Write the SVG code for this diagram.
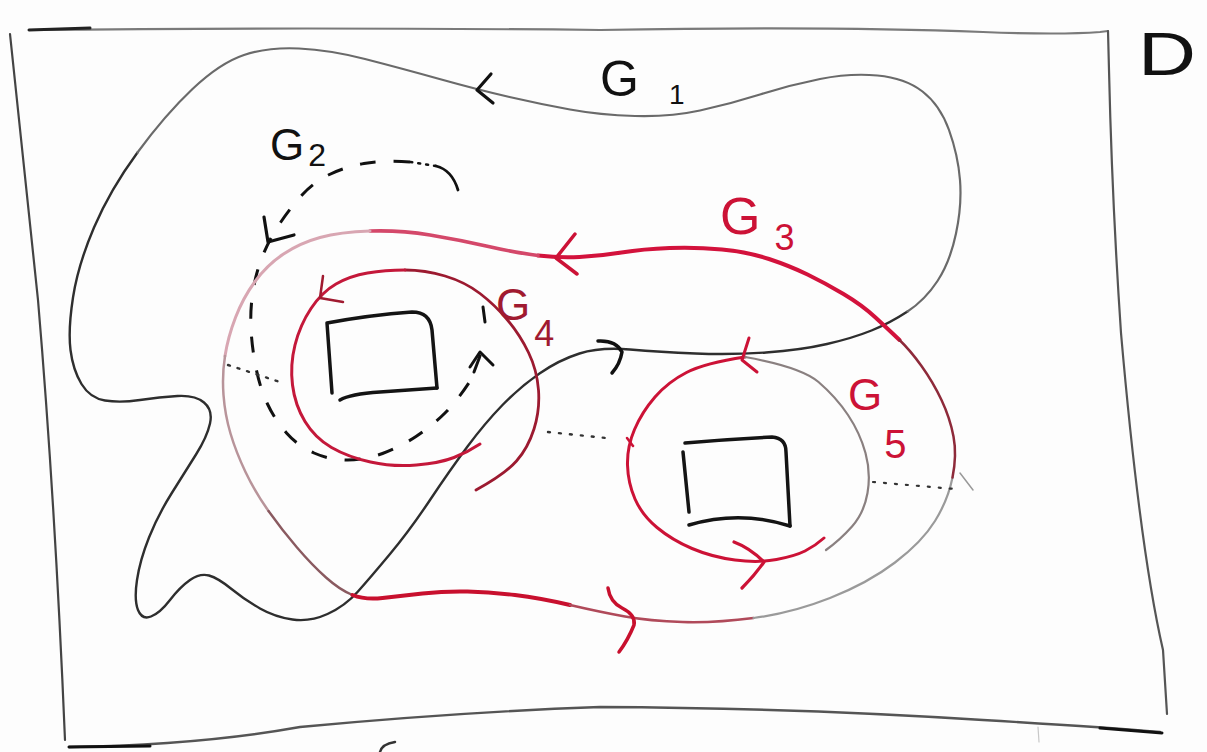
<svg xmlns="http://www.w3.org/2000/svg" width="1207" height="752" viewBox="0 0 1207 752">
<style>
.ln{fill:none;stroke-linecap:round;stroke-linejoin:round}
.lbl{font-family:"Liberation Sans",Arial,sans-serif}
.red{fill:#cc1236}
.dred{fill:#a01a30}
.blk{fill:#111}
</style>
<rect width="1207" height="752" fill="#fdfdfd"/>
<g id="frame" class="ln">
  <path d="M 29,30 Q 300,27 600,30 Q 830,26 983,32 Q 1060,35 1100,32 L 1108,31" stroke="#7a7a7a" stroke-width="2.2"/>
  <path d="M 29,30 L 90,28" stroke="#222" stroke-width="3"/>
  <path d="M 1108,31 L 1109,70 Q 1112,200 1121,333 Q 1140,550 1163,650 L 1167,714" stroke="#555" stroke-width="2.2"/>
  <path d="M 10,34 Q 25,180 38,300 Q 55,500 65,740" stroke="#444" stroke-width="2.2"/>
  <path d="M 69,747 Q 200,745 300,727 Q 460,712 600,707 Q 800,708 983,720 Q 1100,727 1160,732" stroke="#555" stroke-width="2.4"/>
  <path d="M 69,747 L 150,746" stroke="#111" stroke-width="3"/>
  <path d="M 1100,728 L 1162,733" stroke="#111" stroke-width="3"/>
  <path d="M 1038,727 L 1039,742" stroke="#c8c8c8" stroke-width="1.2"/>
  <path d="M 380,752 Q 382,744 395,742" stroke="#333" stroke-width="2.5"/>
  <text class="lbl blk" x="1138" y="75" font-size="62" textLength="58" lengthAdjust="spacingAndGlyphs">D</text>
</g>
<g id="holes" class="ln" stroke="#141414" stroke-width="3.5">
  <path d="M 332,393 L 327,323 Q 370,315 412,312 Q 430,312 432,330 L 437,388"/>
  <path d="M 340,400 Q 350,394 380,392 L 437,388"/>
  <path d="M 685,443 Q 730,439 772,437 Q 786,438 786,452 L 790,526"/>
  <path d="M 683,452 L 689,512"/>
  <path d="M 689,525 Q 740,510 790,526"/>
</g>
<g id="connectors" class="ln">
  <g id="G1-curve">
    <path d="M 907.5,311.5 Q 890,323 871.5,330.5 Q 853,338 827,344 Q 801,350 766,352.5 Q 731,355 695.5,353.5 Q 660,352 630,349.5 Q 600,347 579.5,353.5 Q 559,360 539.5,373.5 Q 520,387 502.5,405 Q 485,423 467.5,446.5 Q 450,470 430,500 Q 410,530 390,554 Q 370,578 357.5,592 Q 345,606 327.5,614 Q 310,622 292.5,619.5 Q 275,617 260,608.5 Q 245,600 231.5,589 Q 218,578 209,575.5 Q 200,573 190,580 Q 180,587 170,600 Q 160,613 151,616.5 Q 142,620 138,610 Q 134,600 137,580 Q 140,560 149,537.5 Q 158,515 171.5,493.5 Q 185,472 196,454.5 Q 207,437 210,423.5 Q 213,410 204,402.5 Q 195,395 177.5,396 Q 160,397 140,400 Q 120,403 105,400.5 Q 90,398 81.5,384 Q 73,370 70.5,350 Q 68,330 73,297.5 Q 78,265 94,227.5 Q 110,190 137.5,152.5" stroke="#2e2e2e" stroke-width="2.4"/>
    <path d="M 137.5,152.5 Q 165,115 192.5,89 Q 220,63 244,55 Q 268,47 299,48.5 Q 330,50 365,59 Q 400,68 439.5,79 Q 479,90 509.5,97 Q 540,104 570,109.5 Q 600,115 635,116 Q 670,117 700,110.5 Q 730,104 760,94.5 Q 790,85 820,79 Q 850,73 877.5,75.5 Q 905,78 922.5,91.5 Q 940,105 949,130 Q 958,155 960,180 Q 962,205 956,233.5 Q 950,262 937.5,281 Q 925,300 907.5,311.5" stroke="#6a6a6a" stroke-width="2.2"/>
    <path d="M 491,74 L 477,90 L 493,103" stroke="#111" stroke-width="3.2"/>
    <path d="M 598,341 Q 616,340 622,352 Q 620,364 612,373" stroke="#111" stroke-width="3.5"/>
  </g>
  <g id="G2-curve">
    <path d="M 458,190 Q 452,170 436,166" stroke="#111" stroke-width="2.8"/>
    <path d="M 436,166 L 410,162" stroke="#111" stroke-width="2.5" stroke-dasharray="2 6"/>
    <path d="M 410,162 Q 383,160 364,163.5 Q 345,167 329.5,174.5 Q 314,182 302.5,194.5 Q 291,207 280.5,222.5 Q 270,238 263,255 Q 256,272 253,291 Q 250,310 251,329 Q 252,348 256,368 Q 260,388 267.5,404 Q 275,420 286.5,433 Q 298,446 314,453 Q 330,460 347.5,460 Q 365,460 382.5,453.5 Q 400,447 416,436.5 Q 432,426 445,413 Q 458,400 472,378" stroke="#111" stroke-width="3" stroke-dasharray="16 18" stroke-linecap="butt"/>
    <path d="M 474,372 L 480,356" stroke="#111" stroke-width="3"/>
    <path d="M 470,367 L 480,352 L 493,365" stroke="#111" stroke-width="3"/>
    <path d="M 483,307 L 485,322" stroke="#111" stroke-width="3"/>
    <path d="M 264,217 L 268,242 L 294,235" stroke="#111" stroke-width="3.2"/>
    <path d="M 228,365 L 280,382" stroke="#333" stroke-width="2.4" stroke-dasharray="2 8"/>
  </g>
  <g id="G3-curve">
    <path d="M 899.5,340 Q 889,330 875.5,317.5 Q 862,305 843.5,294 Q 825,283 807.5,274.5 Q 790,266 769,259 Q 748,252 722,249.5 Q 696,247 669.5,248 Q 643,249 621.5,252.5 Q 600,256 579.5,257 Q 559,258 538,255.5" stroke="#d3123c" stroke-width="4"/>
    <path d="M 538,255.5 Q 517,253 488.5,246.5 Q 460,240 430,235 Q 400,230 370,231" stroke="#d4486a" stroke-width="3.6"/>
    <path d="M 370,231 Q 340,232 320,237.5 Q 300,243 283.5,254 Q 267,265 255,281.5 Q 243,298 235.5,317.5 Q 228,337 225,356" stroke="#d8a6b2" stroke-width="3"/>
    <path d="M 225,356 Q 222,375 223.5,395 Q 225,415 230.5,433.5 Q 236,452 245.5,472 Q 255,492 268.5,511" stroke="#b8949a" stroke-width="2.5"/>
    <path d="M 268.5,511 Q 282,530 297,547.5 Q 312,565 326,577.5 Q 340,590 352.5,595" stroke="#8a5a60" stroke-width="2.4"/>
    <path d="M 352.5,595 Q 365,600 382.5,598 Q 400,596 422.5,593.5 Q 445,591 467.5,591.5 Q 490,592 515,595 Q 540,598 570,605" stroke="#c8102e" stroke-width="4"/>
    <path d="M 570,605 Q 600,612 625,616.5 Q 650,621 682.5,622 Q 715,623 753.5,618" stroke="#b04a5a" stroke-width="2.5"/>
    <path d="M 753.5,618 Q 792,613 830,598 Q 868,583 895,562.5 Q 922,542 935,521 Q 948,500 952.5,477.5" stroke="#9a9a9a" stroke-width="2.2"/>
    <path d="M 952.5,477.5 Q 957,455 953.5,436.5 Q 950,418 941.5,400 Q 933,382 921.5,366 Q 910,350 899.5,340" stroke="#8e2a3a" stroke-width="2.5"/>
    <path d="M 575,234 L 556,258 L 577,274" stroke="#cc1236" stroke-width="3.5"/>
    <path d="M 608,588 Q 610,602 622,608 Q 636,615 634,625 Q 628,640 619,652" stroke="#c8102e" stroke-width="3.5"/>
  </g>
  <g id="G4-curve">
    <path d="M 476,490 Q 505,474 516.5,461 Q 528,448 534,429 Q 540,410 538.5,390 Q 537,370 528.5,352.5 Q 520,335 507.5,320 Q 495,305 480,293.5 Q 465,282 445,276 Q 425,270 405,270" stroke="#9c1a30" stroke-width="2.8"/>
    <path d="M 405,270 Q 385,270 367.5,273 Q 350,276 336,284 Q 322,292 311,308.5 Q 300,325 295,345 Q 290,365 292.5,385 Q 295,405 305,421.5 Q 315,438 331.5,447.5 Q 348,457 370.5,462 Q 393,467 416.5,465 Q 440,463 454,457.5 Q 468,452 480,444" stroke="#c4183a" stroke-width="3"/>
    <path d="M 323,276 L 320,298 L 343,302" stroke="#a01a30" stroke-width="2.5"/>
    <path d="M 548,432 L 606,438" stroke="#333" stroke-width="2.4" stroke-dasharray="2 9"/>
  </g>
  <g id="G5-curve">
    <path d="M 745,357 Q 705,363 686.5,372.5 Q 668,382 655,397 Q 642,412 634.5,429.5 Q 627,447 627.5,465 Q 628,483 635,499 Q 642,515 657,527.5 Q 672,540 692,548.5 Q 712,557 735,560 Q 758,563 776.5,559.5 Q 795,556 805,551 Q 815,546 824,538" stroke="#cc1236" stroke-width="3"/>
    <path d="M 745,357 Q 801,367 818.5,382 Q 836,397 848,415 Q 860,433 865.5,453 Q 871,473 867.5,493 Q 864,513 852,526.5 Q 840,540 826,550" stroke="#8a8080" stroke-width="2.2"/>
    <path d="M 749,338 L 742,360 L 757,372" stroke="#cc1236" stroke-width="3"/>
    <path d="M 734,542 Q 750,548 764,562 Q 755,575 742,588" stroke="#cc1236" stroke-width="3.2"/>
    <path d="M 627,438 L 633,446" stroke="#cc1236" stroke-width="2.5"/>
    <path d="M 873,482 L 955,489" stroke="#333" stroke-width="2.2" stroke-dasharray="2 9"/>
    <path d="M 960,473 L 973,490" stroke="#999" stroke-width="1.5"/>
  </g>
</g>
<g id="labels">
  <g id="G1"><text class="lbl blk" x="600" y="96" font-size="50">G<tspan font-size="28" dx="30" dy="8">1</tspan></text></g>
  <g id="G2"><text class="lbl blk" x="270" y="160" font-size="44">G<tspan font-size="32" dx="4" dy="6">2</tspan></text></g>
  <g id="G3"><text class="lbl red" x="720" y="234" font-size="52">G<tspan font-size="36" dx="14" dy="16">3</tspan></text></g>
  <g id="G4"><text class="lbl dred" x="496" y="320" font-size="44">G<tspan font-size="36" dx="4" dy="26">4</tspan></text></g>
  <g id="G5"><text class="lbl red" x="848" y="410" font-size="44">G<tspan font-size="40" dx="2" dy="48">5</tspan></text></g>
</g>
</svg>
